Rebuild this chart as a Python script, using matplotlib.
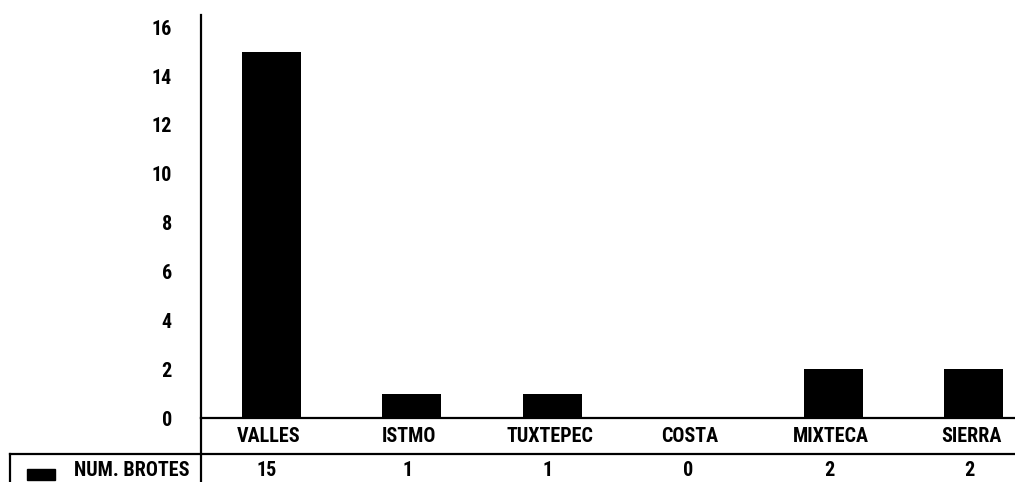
import matplotlib
matplotlib.use("Agg")
import matplotlib.pyplot as plt
from matplotlib.lines import Line2D
from matplotlib.patches import Rectangle
from matplotlib import transforms, font_manager

# data
regions = ["VALLES", "ISTMO", "TUXTEPEC", "COSTA", "MIXTECA", "SIERRA"]
brotes = [15, 1, 1, 0, 2, 2]
series_name = "NUM. BROTES"
yticks = [0, 2, 4, 6, 8, 10, 12, 14, 16]


def is_bold(w):
    if isinstance(w, str):
        return w in ('bold', 'heavy', 'extra bold', 'black', 'demibold', 'semibold')
    return w >= 600


# a narrow bold face looks closest; fall back to Liberation Sans
preferred = ['Liberation Sans Narrow', 'Arial Narrow', 'Roboto Condensed',
             'Open Sans Condensed', 'Noto Sans Condensed', 'DejaVu Sans Condensed']
bold_narrow = {f.name for f in font_manager.fontManager.ttflist
               if ('Narrow' in f.name or 'Condensed' in f.name or f.stretch == 'condensed')
               and is_bold(f.weight)}
pick = [n for n in preferred if n in bold_narrow]
if pick:
    plt.rcParams['font.family'] = [pick[0], 'DejaVu Sans']
    fsize = 14.5
else:
    plt.rcParams['font.family'] = ['Liberation Sans', 'DejaVu Sans']
    fsize = 12.5
plt.rcParams['font.weight'] = 'bold'
plt.rcParams['font.size'] = fsize

W, H = 1015, 482
fig = plt.figure(figsize=(W / 100, H / 100), dpi=100)

# axes runs past the right edge, like the original crop
ax_left, ax_right, ax_bottom, ax_top = 201, 1044, 418, 15
ax = fig.add_axes([ax_left / W, (H - ax_bottom) / H,
                   (ax_right - ax_left) / W, (ax_bottom - ax_top) / H])

x = list(range(len(regions)))
ax.bar(x, brotes, width=0.42, color='black')
ax.set_xlim(-0.5, len(regions) - 0.5)
ax.set_ylim(0, 16.5)
ax.set_yticks(yticks)
ax.set_yticklabels([str(t) for t in yticks], fontweight='bold')
ax.tick_params(axis='y', length=0, pad=21)
ax.set_xticks([])

for s in ['top', 'right']:
    ax.spines[s].set_visible(False)
for s in ['left', 'bottom']:
    ax.spines[s].set_linewidth(1.6)

# data table under the axis
ax_h = ax_bottom - ax_top
def yfrac(py):
    return -(py - ax_bottom) / ax_h

trans = transforms.blended_transform_factory(ax.transData, ax.transAxes)
for i, (r, v) in enumerate(zip(regions, brotes)):
    ax.text(i - 0.02, yfrac(436), r, transform=trans, ha='center', va='center',
            fontweight='bold', clip_on=False)
    ax.text(i - 0.03, yfrac(470), str(v), transform=trans, ha='center', va='center',
            fontweight='bold', clip_on=False)

def fx(px):
    return px / W

def fy(py):
    return (H - py) / H

lw = 1.6
fig.add_artist(Line2D([fx(ax_left), fx(ax_left)], [fy(ax_bottom), fy(H + 5)], color='black', lw=lw))
fig.add_artist(Line2D([fx(10), fx(W + 5)], [fy(454), fy(454)], color='black', lw=lw))
fig.add_artist(Line2D([fx(10), fx(10)], [fy(454), fy(H + 5)], color='black', lw=lw))

# legend key
fig.add_artist(Rectangle((fx(27), fy(480)), fx(55) - fx(27), fy(469) - fy(480),
                         transform=fig.transFigure, color='black'))
fig.text(fx(189), fy(471), series_name, ha='right', va='center', fontweight='bold')

fig.savefig("out.png", dpi=100)
